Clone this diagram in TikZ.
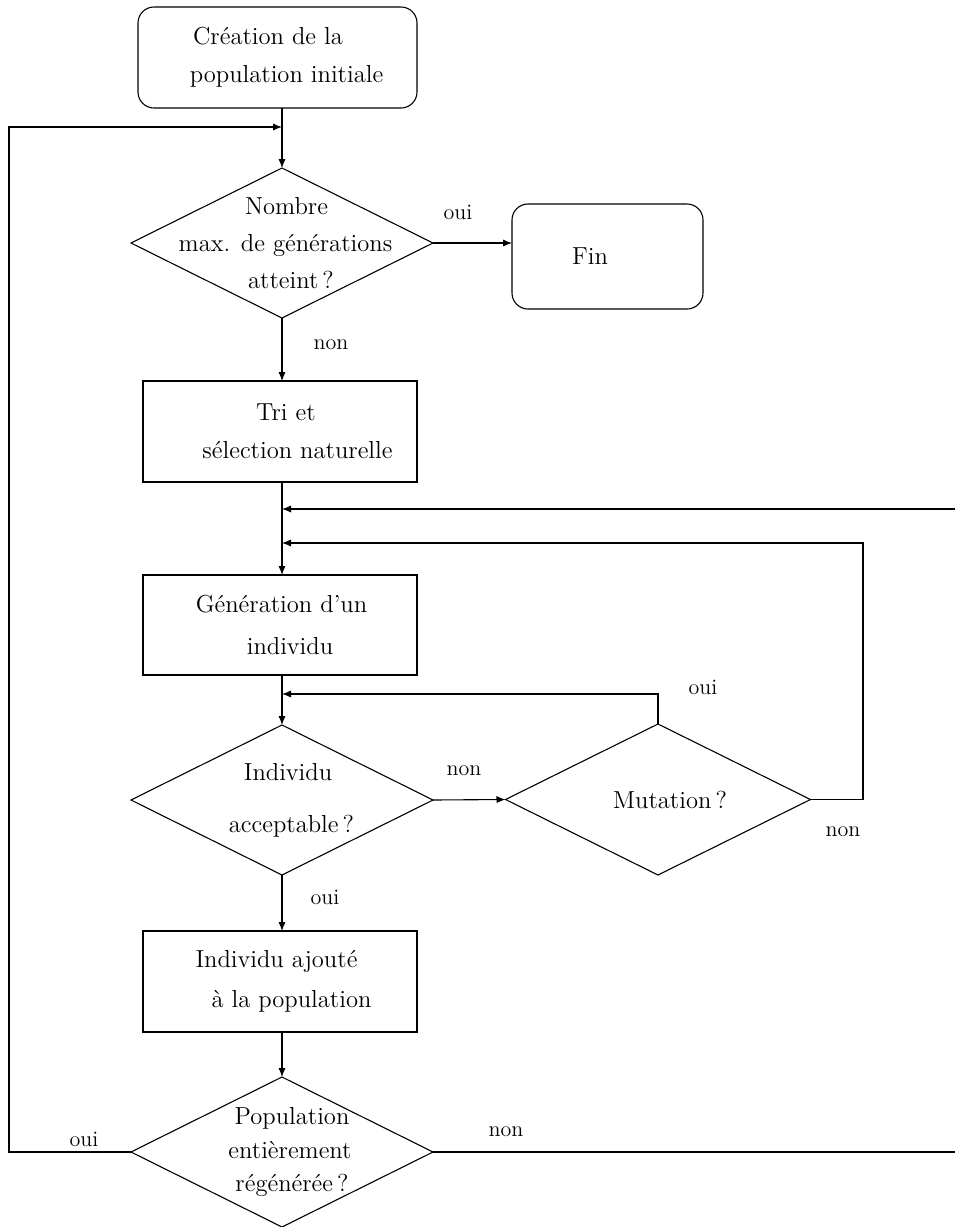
\documentclass[tikz,border=0pt]{standalone}
\usetikzlibrary{shapes.geometric,arrows.meta}
\newcommand\fsm[1]{\fontsize{12.3}{#1}\selectfont}
\begin{document}
\begin{tikzpicture}[x=0.5pt,y=-0.5pt,
  ln/.style={line width=0.55pt},
  arr/.style={ln,-{Latex[length=4.5pt,width=3.6pt]}},
  rbox/.style={draw,ln,rounded corners=8pt,inner sep=0pt,outer sep=0pt,align=center},
  sbox/.style={draw,ln,inner sep=0pt,outer sep=0pt,align=center},
  dia/.style={draw,ln,diamond,inner sep=0pt,outer sep=0pt,minimum width=151pt,minimum height=75pt},
  dtext/.style={align=center,inner sep=0pt},
  lbl/.style={font=\fontsize{11}{13}\selectfont,inner sep=0pt}]
\useasboundingbox (0,0) rectangle (955,1227);
% named helper coordinates
\coordinate (xl) at (9,0);
\coordinate (xr) at (863,0);
\coordinate (xe) at (955,0);
\coordinate (j1) at (282,127);
\coordinate (j2) at (282,509);
\coordinate (j3) at (282,543);
\coordinate (j4) at (282,694);
% shapes
\node[rbox,minimum width=139.5pt,minimum height=50.5pt,font=\fsm{19pt}] (b1) at (277.5,57.5)
  {Création de la\hspace*{9.5pt}\\\hspace*{9pt}population initiale};
\node[dia,label={[dtext,font=\fsm{18.5pt}]center:{\hspace*{4.5pt}Nombre\\\hspace*{3.5pt}max. de générations\\\hspace*{9pt}atteint\,?}}] (d1) at (282,243) {};
\node[rbox,minimum width=95.5pt,minimum height=52.5pt,font=\fsm{15pt}] (fin) at (607.5,256.5) {Fin\hspace*{17.5pt}};
\node[sbox,minimum width=137pt,minimum height=50.5pt,font=\fsm{19pt}] (b2) at (280,431.5)
  {\hspace*{6pt}Tri et\\\hspace*{17.5pt}sélection naturelle};
\node[sbox,minimum width=137pt,minimum height=50pt,font=\fsm{21pt}] (b3) at (280,625)
  {\hspace*{1.5pt}Génération d'un\\\hspace*{10pt}individu};
\node[dia,label={[dtext,font=\fsm{26pt}]center:{\hspace*{6pt}Individu\\\hspace*{9.5pt}acceptable\,?}}] (d2) at (282,800) {};
\node[dia,minimum width=152.5pt,minimum height=75.5pt,label={[dtext,font=\fsm{15pt}]center:{\hspace*{12pt}Mutation\,?}}] (mut) at (658,799.5) {};
\node[sbox,minimum width=137pt,minimum height=50.5pt,font=\fsm{20pt}] (b4) at (280,981.5)
  {Individu ajouté\hspace*{3.5pt}\\\hspace*{11.5pt}à la population};
\node[dia,label={[dtext,font=\fsm{16.75pt}]center:{\hspace*{10pt}Population\\\hspace*{8pt}entièrement\\\hspace*{10pt}régénérée\,?}}] (d4) at (282,1152) {};
% labels
\node[lbl] (l1) at (458,212) {oui};
\node[lbl] (l2) at (331,345) {non};
\node[lbl] (l3) at (703,687) {oui};
\node[lbl] (l4) at (464,771) {non};
\node[lbl] (l5) at (843,832) {non};
\node[lbl] (l6) at (325,897) {oui};
\node[lbl] (l7) at (84,1139) {oui};
\node[lbl] (l8) at (506,1132) {non};
% connectors
\draw[arr] (b1.south -| d1.north) -- (d1.north);
\draw[arr] (d1.east) -- (d1.east -| fin.west);
\draw[arr] (d1.south) -- (d1.south |- b2.north);
\draw[arr] (d1.south |- b2.south) -- (d1.south |- b3.north);
\draw[arr] (d1.south |- b3.south) -- (d2.north);
\draw[arr] (d2.east) -- (mut.west);
\draw[arr] (d2.south) -- (d2.south |- b4.north);
\draw[arr] (d2.south |- b4.south) -- (d4.north);
\draw[arr] (mut.north) |- (j4);
\draw[arr] (mut.east) -- (xr |- mut.east) |- (j3);
\draw[arr] (d4.west) -- (xl |- d4.west) |- (j1);
\draw[ln] (d4.east) -- (xe |- d4.east);
\draw[arr] (xe |- j2) -- (j2);
\end{tikzpicture}
\end{document}
